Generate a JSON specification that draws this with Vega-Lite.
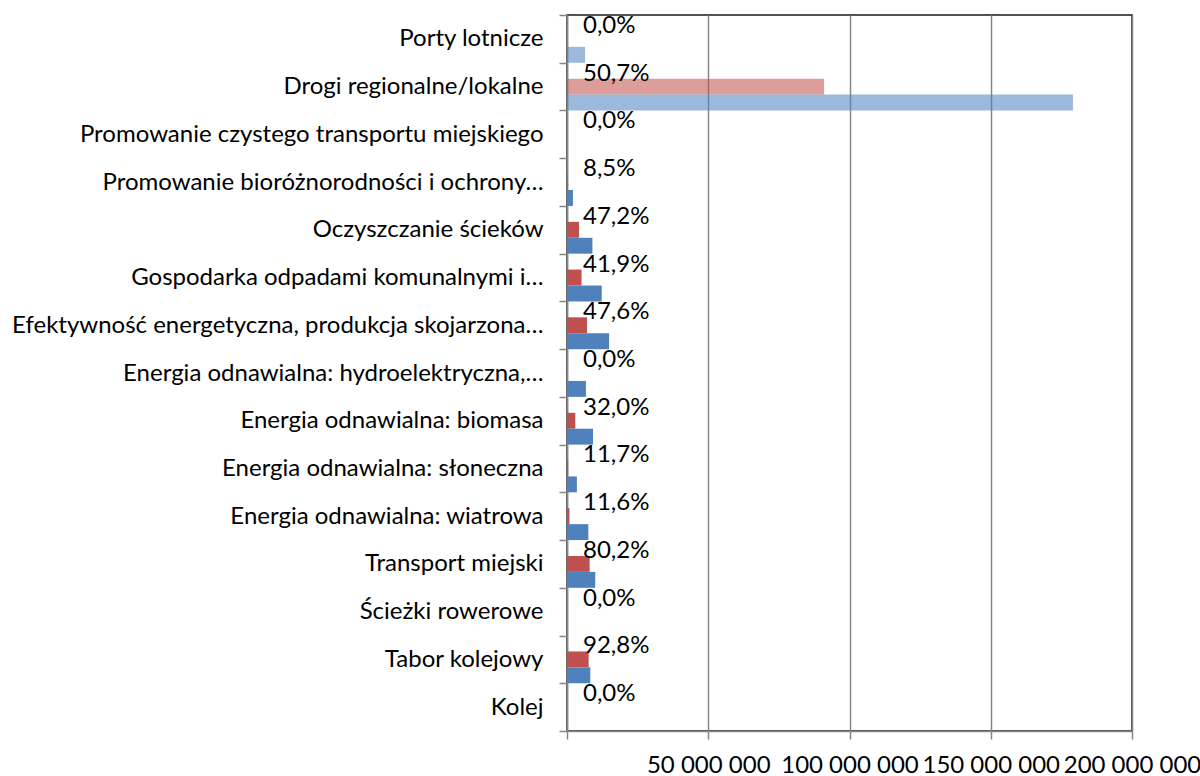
{
  "$schema": "https://vega.github.io/schema/vega-lite/v6.json",
  "width": 565,
  "height": 716,
  "autosize": {"type": "none"},
  "padding": {"left": 567, "top": 15, "right": 68, "bottom": 45},
  "background": "white",
  "config": {
    "locale": {"number": {"decimal": ",", "thousands": " ", "grouping": [3], "currency": ["", " zł"]}},
    "font": "Lato",
    "view": {"stroke": "#1a1a1a", "strokeWidth": 1.5}
  },
  "datasets": {
    "slupki": [
      {"kategoria": "Porty lotnicze", "seria": "Alokacja", "wartosc": 6400000},
      {"kategoria": "Drogi regionalne/lokalne", "seria": "Płatności", "wartosc": 91000000},
      {"kategoria": "Drogi regionalne/lokalne", "seria": "Alokacja", "wartosc": 179100000},
      {"kategoria": "Promowanie bioróżnorodności i ochrony…", "seria": "Płatności", "wartosc": 180000},
      {"kategoria": "Promowanie bioróżnorodności i ochrony…", "seria": "Alokacja", "wartosc": 2100000},
      {"kategoria": "Oczyszczanie ścieków", "seria": "Płatności", "wartosc": 4250000},
      {"kategoria": "Oczyszczanie ścieków", "seria": "Alokacja", "wartosc": 9000000},
      {"kategoria": "Gospodarka odpadami komunalnymi i…", "seria": "Płatności", "wartosc": 5150000},
      {"kategoria": "Gospodarka odpadami komunalnymi i…", "seria": "Alokacja", "wartosc": 12300000},
      {"kategoria": "Efektywność energetyczna, produkcja skojarzona…", "seria": "Płatności", "wartosc": 7090000},
      {"kategoria": "Efektywność energetyczna, produkcja skojarzona…", "seria": "Alokacja", "wartosc": 14900000},
      {"kategoria": "Energia odnawialna: hydroelektryczna,…", "seria": "Alokacja", "wartosc": 6700000},
      {"kategoria": "Energia odnawialna: biomasa", "seria": "Płatności", "wartosc": 2940000},
      {"kategoria": "Energia odnawialna: biomasa", "seria": "Alokacja", "wartosc": 9200000},
      {"kategoria": "Energia odnawialna: słoneczna", "seria": "Płatności", "wartosc": 410000},
      {"kategoria": "Energia odnawialna: słoneczna", "seria": "Alokacja", "wartosc": 3500000},
      {"kategoria": "Energia odnawialna: wiatrowa", "seria": "Płatności", "wartosc": 880000},
      {"kategoria": "Energia odnawialna: wiatrowa", "seria": "Alokacja", "wartosc": 7550000},
      {"kategoria": "Transport miejski", "seria": "Płatności", "wartosc": 8020000},
      {"kategoria": "Transport miejski", "seria": "Alokacja", "wartosc": 10000000},
      {"kategoria": "Tabor kolejowy", "seria": "Płatności", "wartosc": 7660000},
      {"kategoria": "Tabor kolejowy", "seria": "Alokacja", "wartosc": 8250000}
    ],
    "etykiety": [
      {"kategoria": "Porty lotnicze", "udzial": 0.0},
      {"kategoria": "Drogi regionalne/lokalne", "udzial": 0.507},
      {"kategoria": "Promowanie czystego transportu miejskiego", "udzial": 0.0},
      {"kategoria": "Promowanie bioróżnorodności i ochrony…", "udzial": 0.085},
      {"kategoria": "Oczyszczanie ścieków", "udzial": 0.472},
      {"kategoria": "Gospodarka odpadami komunalnymi i…", "udzial": 0.419},
      {"kategoria": "Efektywność energetyczna, produkcja skojarzona…", "udzial": 0.476},
      {"kategoria": "Energia odnawialna: hydroelektryczna,…", "udzial": 0.0},
      {"kategoria": "Energia odnawialna: biomasa", "udzial": 0.32},
      {"kategoria": "Energia odnawialna: słoneczna", "udzial": 0.117},
      {"kategoria": "Energia odnawialna: wiatrowa", "udzial": 0.116},
      {"kategoria": "Transport miejski", "udzial": 0.802},
      {"kategoria": "Ścieżki rowerowe", "udzial": 0.0},
      {"kategoria": "Tabor kolejowy", "udzial": 0.928},
      {"kategoria": "Kolej", "udzial": 0.0}
    ]
  },
  "encoding": {
    "y": {
      "field": "kategoria",
      "type": "nominal",
      "sort": null,
      "scale": {
        "domain": ["Porty lotnicze", "Drogi regionalne/lokalne", "Promowanie czystego transportu miejskiego", "Promowanie bioróżnorodności i ochrony…", "Oczyszczanie ścieków", "Gospodarka odpadami komunalnymi i…", "Efektywność energetyczna, produkcja skojarzona…", "Energia odnawialna: hydroelektryczna,…", "Energia odnawialna: biomasa", "Energia odnawialna: słoneczna", "Energia odnawialna: wiatrowa", "Transport miejski", "Ścieżki rowerowe", "Tabor kolejowy", "Kolej"],
        "paddingInner": 0,
        "paddingOuter": 0
      },
      "axis": {
        "title": null,
        "tickBand": "extent",
        "domainColor": "#868686",
        "domainWidth": 1.5,
        "tickColor": "#868686",
        "tickWidth": 1.5,
        "tickSize": 8,
        "labelPadding": 16,
        "labelFont": "Lato",
        "labelFontSize": 24,
        "labelColor": "#000000",
        "labelLimit": 1000,
        "labelOverlap": false
      }
    }
  },
  "layer": [
    {
      "data": {"name": "slupki"},
      "mark": {"type": "bar"},
      "encoding": {
        "x": {
          "field": "wartosc",
          "type": "quantitative",
          "scale": {"domain": [0, 200000000], "nice": false, "zero": true},
          "axis": {
            "title": null,
            "values": [0, 50000000, 100000000, 150000000, 200000000],
            "format": ",d",
            "labelExpr": "datum.value == 0 ? '' : datum.label",
            "grid": true,
            "gridColor": "#868686",
            "gridWidth": 1.5,
            "domainColor": "#868686",
            "domainWidth": 1.5,
            "tickColor": "#868686",
            "tickWidth": 1.5,
            "tickSize": 8,
            "labelPadding": 14,
            "labelFont": "Lato",
            "labelFontSize": 24,
            "labelColor": "#000000",
            "labelOverlap": false,
            "labelFlush": false
          }
        },
        "yOffset": {
          "field": "seria",
          "type": "nominal",
          "sort": ["Płatności", "Alokacja"],
          "scale": {"domain": ["Płatności", "Alokacja"], "paddingInner": 0, "paddingOuter": 0.5, "align": 1}
        },
        "color": {
          "field": "seria",
          "type": "nominal",
          "scale": {"domain": ["Płatności", "Alokacja"], "range": ["#c0504d", "#4f81bd"]},
          "legend": null
        },
        "fillOpacity": {
          "condition": {"test": "datum.kategoria === 'Porty lotnicze' || datum.kategoria === 'Drogi regionalne/lokalne'", "value": 0.56},
          "value": 1
        }
      }
    },
    {
      "data": {"name": "etykiety"},
      "mark": {"type": "text", "align": "left", "baseline": "alphabetic", "dx": 16, "dy": -6, "font": "Lato", "fontSize": 24, "color": "#000000"},
      "encoding": {
        "x": {"datum": 0, "type": "quantitative"},
        "text": {"field": "udzial", "type": "quantitative", "format": ".1%"}
      }
    }
  ]
}
